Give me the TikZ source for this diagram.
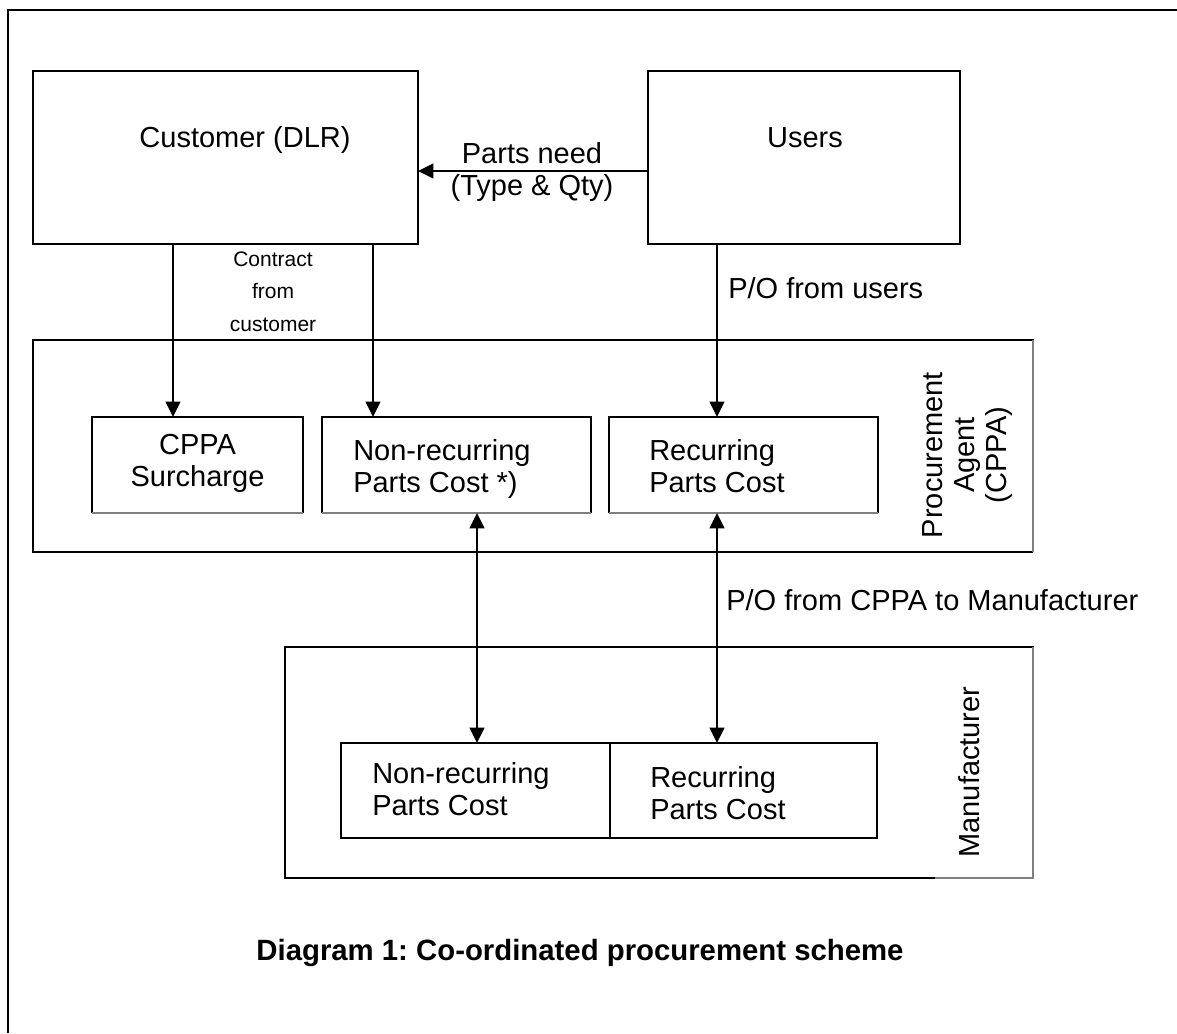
\documentclass[tikz,border=0pt]{standalone}
\usepackage{fontspec}
\setmainfont{Liberation Sans}
\usetikzlibrary{arrows.meta}
\frenchspacing
\begin{document}
\begin{tikzpicture}[x=0.75pt, y=-0.75pt,
  >={Triangle[length=11.5pt, width=11pt]},
  box/.style={rectangle, inner sep=0pt, outer sep=0pt},
  dims/.style 2 args={minimum width=#1*0.75pt, minimum height=#2*0.75pt},
  solidbox/.style={box, draw, line width=1.5pt},
  edge/.style={draw, line width=1.5pt},
  hair/.style={draw, line width=0.8pt, gray},
  arr/.style={draw, line width=1.3pt},
  frame/.style={draw, line width=2pt},
  lbl/.style={inner sep=0pt, font=\fontsize{21.75pt}{24pt}\selectfont},
  small/.style={inner sep=0pt, font=\fontsize{15.75pt}{24.4pt}\selectfont},
  capt/.style={inner sep=0pt, font=\bfseries\fontsize{22pt}{26pt}\selectfont}]
\useasboundingbox (0,0) rectangle (1177,1033);

% page frame
\draw[frame] (8,1033) -- (8,10) -- (1177,10);

% top row
\node[solidbox, dims={385}{173}] (cust)  at (225.5,157.5) {};
\node[solidbox, dims={312}{173}] (users) at (804,157.5) {};

% procurement agent and its cost items
\node[box, dims={1000}{212}] (proc)  at (533,446) {};
\node[box, dims={211}{96}]   (surch) at (197.5,465) {};
\node[box, dims={269}{96}]   (nrc)   at (456.5,465) {};
\node[box, dims={269}{96}]   (rc)    at (743.5,465) {};

% manufacturer and its cost items
\node[box, dims={748}{231}]       (mfr) at (659,762.5) {};
\node[solidbox, dims={269}{95}]   (nrm) at (475.5,790.5) {};
\node[solidbox, dims={267}{95}]   (rm)  at (743.5,790.5) {};

% container outlines: heavy on three sides, fine rule on the right
\draw[edge] (proc.south east) -- (proc.south west) -- (proc.north west) -- (proc.north east) -- ++(0,18);
\draw[hair] (proc.north east) -- (proc.south east);
\draw[edge] (mfr.south east) ++(-98,0) -- (mfr.south west) -- (mfr.north west) -- (mfr.north east) -- ++(0,20);
\draw[hair] (mfr.north east) -- (mfr.south east) -- ++(-98,0);
\foreach \b in {surch,nrc,rc}{
  \draw[edge] (\b.south west) -- (\b.north west) -- (\b.north east) -- (\b.south east);
  \draw[hair] (\b.south west) -- (\b.south east);
}

% texts
\node[lbl, anchor=base] (tcust)  at (245,147) {Customer (DLR)};
\node[lbl, anchor=base] (tusers) at (805,147) {Users};
\node[lbl, anchor=north, align=center] (tneed) at (532,142) {Parts need\\(Type \& Qty)};
\node[small, anchor=north, align=center] (tcontract) at (273,251.5) {Contract\\from\\customer};
\node[lbl, anchor=base west] (tpou) at (728,298) {P/O from users};
\node[lbl, anchor=base west] (tpom) at (726,610) {P/O from CPPA to Manufacturer};
\node[lbl, align=center, rotate=90] (tproc) at (967.5,455) {Procurement\\Agent\\(CPPA)};
\node[lbl, rotate=90] (tmfr) at (969.5,772) {Manufacturer};
\node[lbl, anchor=north, align=center] (tsur) at (197.5,434) {CPPA\\Surcharge};
\node[lbl, anchor=north west, align=left] (tnrc) at (353,439) {Non-recurring\\Parts Cost *)};
\node[lbl, anchor=north west, align=left] (trc)  at (649,439) {Recurring\\Parts Cost};
\node[lbl, anchor=north west, align=left] (tnrm) at (372,762) {Non-recurring\\Parts Cost};
\node[lbl, anchor=north west, align=left] (trm)  at (650,766) {Recurring\\Parts Cost};
\node[capt, anchor=base] (tcap) at (580,960) {Diagram 1: Co-ordinated procurement scheme};

% connector lanes
\coordinate (pn) at (0,171);
\coordinate (ca) at (173,0);
\coordinate (cb) at (373,0);
\coordinate (cn) at (477,0);
\coordinate (cu) at (717,0);

% connectors
\draw[arr, ->]  (users.west |- pn) -- (cust.east |- pn);
\draw[arr, ->]  (ca |- cust.south) -- (ca |- surch.north);
\draw[arr, ->]  (cb |- cust.south) -- (cb |- nrc.north);
\draw[arr, ->]  (cu |- users.south) -- (cu |- rc.north);
\draw[arr, <->] (cn |- nrc.south) -- (cn |- nrm.north);
\draw[arr, <->] (cu |- rc.south) -- (cu |- rm.north);
\end{tikzpicture}
\end{document}
